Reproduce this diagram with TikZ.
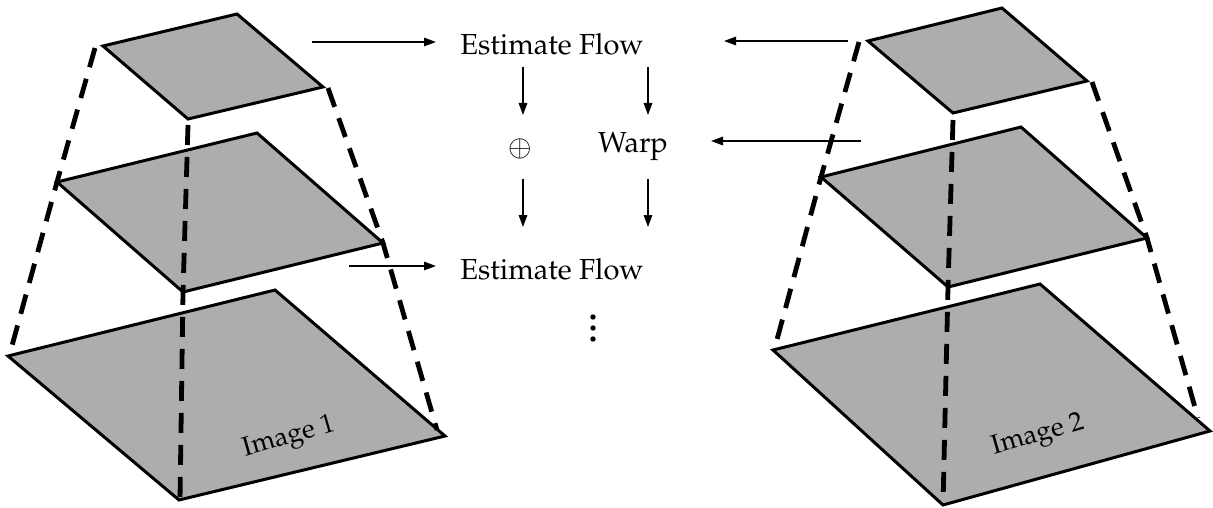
\documentclass[tikz,border=0pt]{standalone}
\usepackage[T1]{fontenc}
\usepackage{mathpazo}
\usetikzlibrary{arrows.meta}
\definecolor{quadgray}{RGB}{173,173,173}
\tikzset{
  quad/.style={draw=black, fill=quadgray, line width=3pt, line join=miter},
  edgedash/.style={draw=black, line width=4.8pt, dash pattern=on 20pt off 12pt},
  flowarrow/.style={draw=black, line width=1.5pt, -{Triangle[length=12pt,width=8.5pt]}},
  lbl/.style={font=\fontsize{29}{34}\selectfont, inner sep=0pt},
  imglbl/.style={font=\fontsize{27}{32}\selectfont, inner sep=0pt, rotate=16},
  dotmark/.style={fill=black, draw=none}
}
\begin{document}
\begin{tikzpicture}[x=1pt, y=-1pt]
\useasboundingbox (0,0) rectangle (1213,508);
% ---- left pyramid ----
\path[quad] (8,356) -- (275,290) -- (445,436) -- (179,500) -- cycle;
\path[quad] (57,182) -- (257,133) -- (383,243) -- (183,292) -- cycle;
\path[quad] (103,46) -- (237,14) -- (323,87) -- (188,119) -- cycle;
\path[edgedash] (95,48) -- (57,182) -- (10,353);
\path[edgedash] (328,88) -- (383,243) -- (437,430);
\path[edgedash] (188,125) -- (183,292) -- (180,500);
\node[imglbl] (img1) at (289,438) {Image 1};
% ---- right pyramid ----
\path[quad] (773,350) -- (1040,284) -- (1210,431) -- (943,505) -- cycle;
\path[quad] (821,177) -- (1021,127) -- (1147,238) -- (948,287) -- cycle;
\path[quad] (868,41) -- (1002,8) -- (1087,81) -- (953,113) -- cycle;
\path[edgedash] (859,42) -- (821,177) -- (775,347);
\path[edgedash] (1092,82) -- (1147,238) -- (1198,418);
\path[edgedash] (953,120) -- (948,287) -- (943,505);
\node[imglbl] (img2) at (1038,436) {Image 2};
% ---- middle ----
\node[lbl] (ef1) at (552,44) {Estimate Flow};
\node[lbl] (plus) at (520,149) {$\oplus$};
\node[lbl] (warp) at (633,147) {Warp};
\node[lbl] (ef2) at (552,269) {Estimate Flow};
\foreach \yy/\nm in {317/d1,328/d2,339/d3} \path[dotmark] (593,\yy) circle (2.7pt) coordinate (\nm);
% arrow coordinates
\coordinate (a1s) at (312,42);  \coordinate (a1e) at (436,42);
\coordinate (a2s) at (349,266); \coordinate (a2e) at (436,266);
\coordinate (b1s) at (848,41);  \coordinate (b1e) at (724,41);
\coordinate (b2s) at (861,141); \coordinate (b2e) at (711,141);
\coordinate (c1s) at (523,67);  \coordinate (c1e) at (523,115);
\coordinate (c2s) at (648,67);  \coordinate (c2e) at (648,115);
\coordinate (c3s) at (523,179); \coordinate (c3e) at (523,227);
\coordinate (c4s) at (648,179); \coordinate (c4e) at (648,227);
\draw[flowarrow] (a1s) -- (a1e);
\draw[flowarrow] (a2s) -- (a2e);
\draw[flowarrow] (b1s) -- (b1e);
\draw[flowarrow] (b2s) -- (b2e);
\draw[flowarrow] (c1s) -- (c1e);
\draw[flowarrow] (c2s) -- (c2e);
\draw[flowarrow] (c3s) -- (c3e);
\draw[flowarrow] (c4s) -- (c4e);
\end{tikzpicture}
\end{document}
